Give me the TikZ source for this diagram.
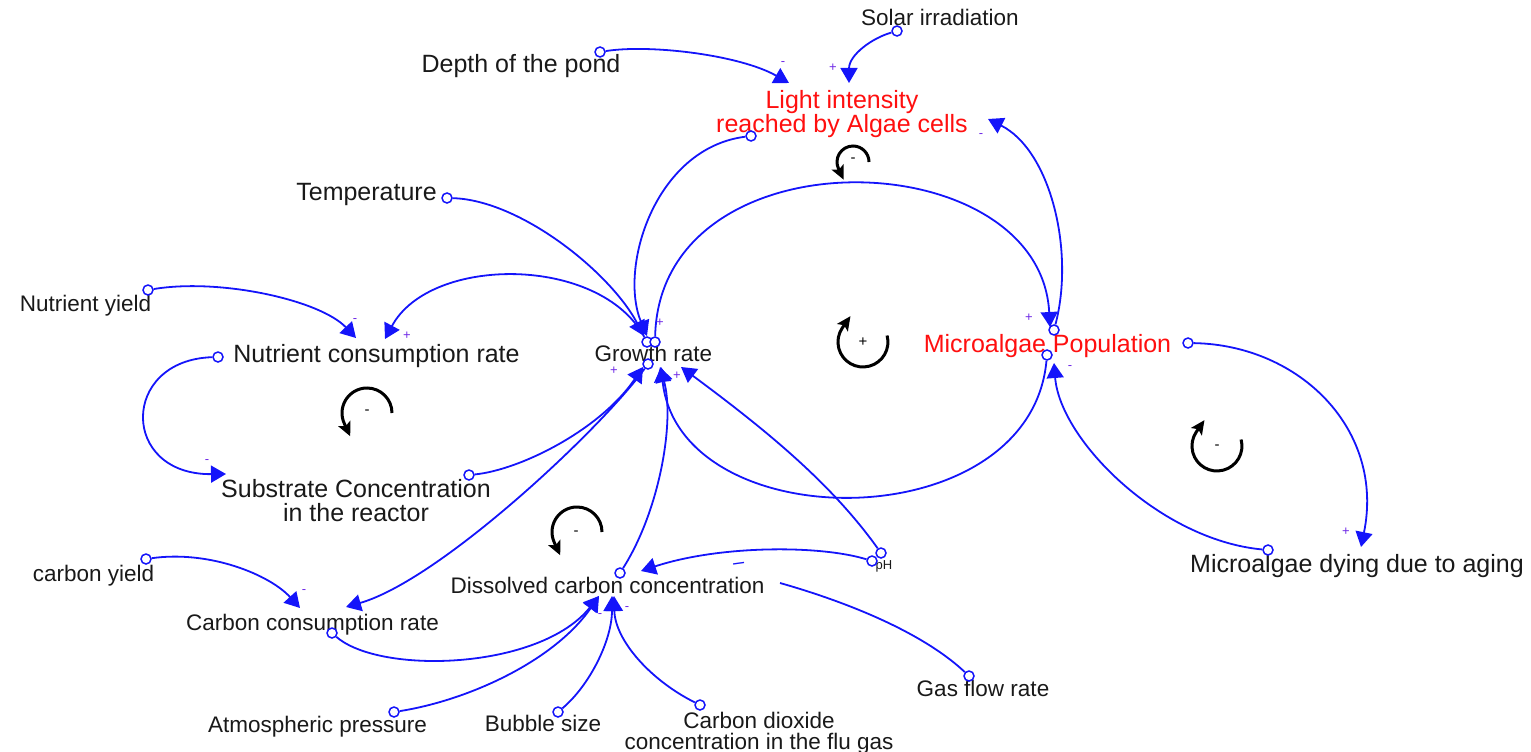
\documentclass[tikz,border=0pt]{standalone}
\usepackage{fontspec}
\setmainfont{Liberation Sans}
\usetikzlibrary{arrows.meta}
\definecolor{lnk}{RGB}{20,20,250}
\definecolor{sgn}{RGB}{110,40,230}
\definecolor{redt}{RGB}{255,15,15}
\definecolor{txt}{RGB}{25,25,25}
\begin{document}
\begin{tikzpicture}[x=1pt,y=-1pt,
  big/.style={font=\fontsize{25}{24}\selectfont, inner sep=0pt, text=txt},
  med/.style={font=\fontsize{22.5}{21}\selectfont, inner sep=0pt, text=txt},
  port/.style={circle, draw=lnk, fill=white, line width=1.5pt, minimum size=10pt, inner sep=0pt},
  link/.style={draw=lnk, line width=1.8pt, -{Triangle[length=15pt,width=17pt]}},
  plainlink/.style={draw=lnk, line width=1.8pt},
  sign/.style={font=\fontsize{13}{13}\selectfont, text=sgn, inner sep=0pt},
  loopa/.style={line width=3pt, black, -{Stealth[length=14pt,width=13pt,inset=3pt]}},
  looplbl/.style={font=\fontsize{15}{15}\selectfont, inner sep=0pt},
]
\useasboundingbox (0,0) rectangle (1531,752);

% ---------- variables ----------
\node[med, anchor=base] (solar) at (940,26) {Solar irradiation};
\node[big, anchor=base] (depth) at (521,73) {Depth of the pond};
\node[big, text=redt, align=center] (light) at (842,113.7) {Light intensity\\reached by Algae cells};
\node[big, anchor=base] (temp) at (366.5,200) {Temperature};
\node[med, anchor=base] (ny) at (85.5,311) {Nutrient yield};
\node[big, anchor=base] (ncr) at (376.5,362) {Nutrient consumption rate};
\node[med, anchor=base] (gr) at (653.5,361) {Growth rate};
\node[big, anchor=base, text=redt] (mp) at (1047.5,352) {Microalgae Population};
\node[big, align=center] (sub) at (356,501) {Substrate Concentration\\in the reactor};
\node[med, anchor=base] (cy) at (93.5,581) {carbon yield};
\node[med, anchor=base] (ccr) at (312.5,630) {Carbon consumption rate};
\node[med, anchor=base] (dcc) at (607.5,593) {Dissolved carbon concentration};
\node[font=\fontsize{13}{13}\selectfont, inner sep=0pt, text=txt, anchor=base] (ph) at (884,569) {pH};
\node[big, anchor=base] (dying) at (1357,572) {Microalgae dying due to aging};
\node[med, anchor=base] (gas) at (983,696) {Gas flow rate};
\node[med, anchor=base] (atm) at (317.5,732) {Atmospheric pressure};
\node[med, anchor=base] (bub) at (543,731) {Bubble size};
\node[med, align=center] (co2) at (759,732.8) {Carbon dioxide\\concentration in the flu gas};

% ---------- arrow ends ----------
\coordinate (tLightS) at (849,83);
\coordinate (tLightD) at (789,83);
\coordinate (tLightM) at (988,119);
\coordinate (tGrT1) at (647,336);
\coordinate (tGrT2) at (644,336);
\coordinate (tNcr1) at (356,338);
\coordinate (tNcr2) at (385,339);
\coordinate (tSub) at (226,474);
\coordinate (tGrB1) at (643,367);
\coordinate (tGrB2) at (660,367);
\coordinate (tGrB3) at (661,367);
\coordinate (tGrB4) at (681,367);
\coordinate (tMpT) at (1050,327);
\coordinate (tMpB) at (1054,363);
\coordinate (tDy) at (1361,547);
\coordinate (tCcr1) at (300,608);
\coordinate (tCcr2) at (346,607);
\coordinate (tDcc1) at (599,596);
\coordinate (tDcc2) at (612,596);
\coordinate (tDcc3) at (614,596);
\coordinate (tDcc4) at (641,571);
\coordinate (eGas) at (780,583);

% ---------- link origins ----------
\node[port] (pSolar) at (897,31) {};
\node[port] (pDepth) at (600,52) {};
\node[port] (pLight) at (751,136) {};
\node[port] (pTemp) at (447,198) {};
\node[port] (pGrA) at (647,342) {};
\node[port] (pGrB) at (655,342) {};
\node[port] (pGrC) at (648,364) {};
\node[port] (pNY) at (148,290) {};
\node[port] (pNCR) at (218,357) {};
\node[port] (pSub) at (469,475) {};
\node[port] (pDcc) at (620,573) {};
\node[port] (pPhA) at (881,553) {};
\node[port] (pPhB) at (872,561) {};
\node[port] (pMpT) at (1054,330) {};
\node[port] (pMpB) at (1047,355) {};
\node[port] (pMpR) at (1188,343) {};
\node[port] (pDy) at (1268,550) {};
\node[port] (pCY) at (146,559) {};
\node[port] (pCCR) at (332,633) {};
\node[port] (pAtm) at (394,712) {};
\node[port] (pBub) at (558,712) {};
\node[port] (pCO2) at (700,705) {};
\node[port] (pGas) at (969,676) {};

% ---------- links ----------
\draw[link] (pSolar) .. controls (872,38) and (849,55) .. (tLightS);
\draw[link] (pDepth) .. controls (650,44) and (740,55) .. (tLightD);
\draw[link] (pLight) .. controls (655,148) and (618,268) .. (tGrT1);
\draw[link] (pTemp) .. controls (520,200) and (610,272) .. (tGrT2);
\draw[link] (pGrA) .. controls (600,255) and (430,255) .. (tNcr2);
\draw[link] (pNY) .. controls (220,278) and (320,300) .. (tNcr1);
\draw[link] (pNCR) .. controls (120,360) and (120,475) .. (tSub);
\draw[link] (pSub) .. controls (520,470) and (600,430) .. (tGrB1);
\draw[link] (pGrC) .. controls (600,430) and (440,580) .. (tCcr2);
\draw[link] (pDcc) .. controls (660,510) and (675,420) .. (tGrB2);
\draw[link] (pPhA) .. controls (831,483) and (766,430) .. (tGrB4);
\draw[link] (pMpB) .. controls (1030,540) and (680,540) .. (tGrB3);
\draw[link] (pGrB) .. controls (660,130) and (1040,140) .. (tMpT);
\draw[link] (pMpT) .. controls (1075,250) and (1050,150) .. (tLightM);
\draw[link] (pMpR) .. controls (1300,345) and (1385,430) .. (tDy);
\draw[link] (pDy) .. controls (1160,540) and (1060,440) .. (tMpB);
\draw[link] (pCY) .. controls (210,550) and (270,575) .. (tCcr1);
\draw[link] (pCCR) .. controls (380,675) and (540,670) .. (tDcc1);
\draw[link] (pAtm) .. controls (470,700) and (555,660) .. (tDcc1);
\draw[link] (pBub) .. controls (590,685) and (612,640) .. (tDcc2);
\draw[link] (pCO2) .. controls (650,680) and (615,640) .. (tDcc3);
\draw[link] (pPhB) .. controls (820,545) and (720,545) .. (tDcc4);
\draw[plainlink] (pGas) .. controls (920,630) and (840,600) .. (eGas);

% ---------- polarity signs ----------
\node[sign] (s1) at (833,68) {+};
\node[sign] (s2) at (783,64) {-};
\node[sign] (s3) at (981,136) {-};
\node[sign] (s4) at (660,323) {+};
\node[sign] (s5) at (355,321) {-};
\node[sign] (s6) at (407,336) {+};
\node[sign] (s7) at (207,462) {-};
\node[sign] (s8) at (614,371) {+};
\node[sign] (s9) at (677,376) {+};
\node[sign] (s10) at (1029,318) {+};
\node[sign] (s11) at (1070,368) {-};
\node[sign] (s12) at (1346,532) {+};
\node[sign] (s13) at (304,592) {-};
\node[sign] (s14) at (600,616) {-};
\node[sign] (s15) at (627,609) {-};
\node[font=\fontsize{20}{20}\selectfont, text=lnk, inner sep=0pt, rotate=8] (s16) at (739,566) {–};

% ---------- loop markers ----------
\draw[loopa] (853,162) ++(16,0) arc[start angle=0,end angle=-205,radius=16] -- ++(5.1,10.9);
\node[looplbl] (l1) at (853,160) {-};
\draw[loopa] (367,413) ++(25,0) arc[start angle=0,end angle=-205,radius=25] -- ++(5.9,12.7);
\node[looplbl] (l2) at (367,412) {-};
\draw[loopa] (577,532) ++(25,0) arc[start angle=0,end angle=-205,radius=25] -- ++(5.9,12.7);
\node[looplbl] (l3) at (576,533) {-};
\draw[loopa] (863,342) ++(24.1,-6.5) arc[start angle=-15,end angle=215,radius=25] -- ++(8,-11.5);
\node[looplbl] (l4) at (863,342) {+};
\draw[loopa] (1217,446) ++(24.1,-6.5) arc[start angle=-15,end angle=215,radius=25] -- ++(8,-11.5);
\node[looplbl] (l5) at (1217,447) {-};
\end{tikzpicture}
\end{document}
